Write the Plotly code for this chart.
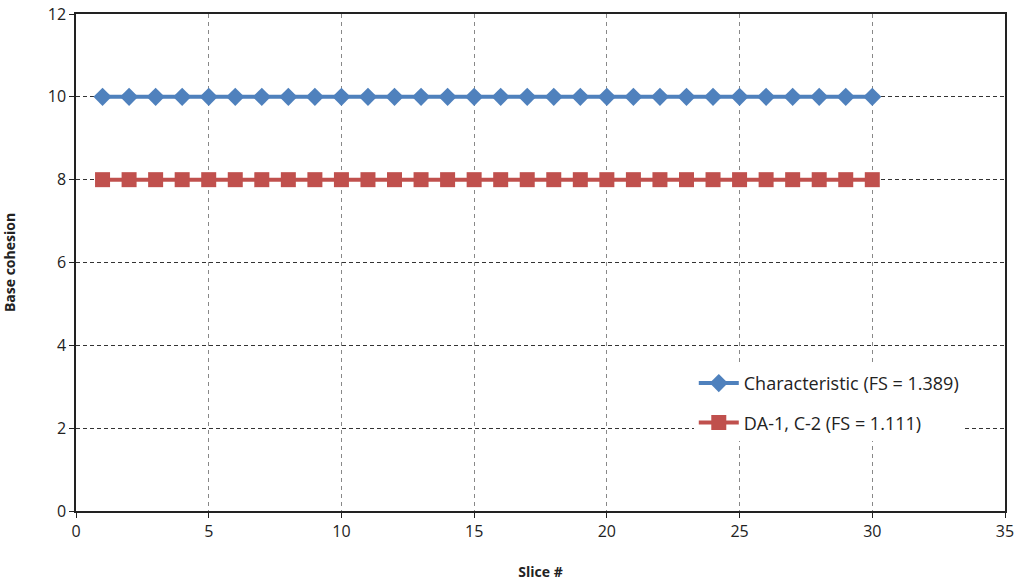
import plotly.graph_objects as go

slices = list(range(1, 31))
characteristic = [10] * 30
da1_c2 = [8] * 30
series_names = ["Characteristic (FS = 1.389)", "DA-1, C-2 (FS = 1.111)"]
x_ticks = [0, 5, 10, 15, 20, 25, 30, 35]
y_ticks = [0, 2, 4, 6, 8, 10, 12]

fig = go.Figure()
fig.add_trace(go.Scatter(
    x=slices, y=characteristic, mode="lines+markers", name=series_names[0],
    legendgroup="a",
    line=dict(color="#4F81BD", width=4),
    marker=dict(symbol="diamond", size=14, color="#4F81BD"),
))
fig.add_trace(go.Scatter(
    x=slices, y=da1_c2, mode="lines+markers", name=series_names[1],
    legendgroup="b",
    line=dict(color="#C0504D", width=4),
    marker=dict(symbol="square", size=15, color="#C0504D"),
))

font_tick = dict(family="Open Sans, Lato, sans-serif", size=16, color="#222")
font_title = dict(family="Open Sans, Lato, sans-serif", size=14, color="#222")

axis_common = dict(
    showline=True, linecolor="#222", linewidth=1.5, mirror=True,
    showgrid=True, gridwidth=1,
    ticks="outside", ticklen=5, tickcolor="#222",
    zeroline=False, automargin=False,
    tickfont=font_tick,
)

fig.update_xaxes(range=[0, 35], tickvals=x_ticks,
                 gridcolor="#888", griddash="4px,4px",
                 title=dict(text="<b>Slice #</b>", font=font_title, standoff=26),
                 **axis_common)
fig.update_yaxes(range=[0, 12], tickvals=y_ticks,
                 gridcolor="#333", griddash="4px,3px",
                 title=dict(text="<b>Base cohesion</b>", font=font_title, standoff=40),
                 **axis_common)

fig.update_layout(
    width=1017, height=584,
    margin=dict(l=76, r=12, t=14, b=73),
    paper_bgcolor="white", plot_bgcolor="white",
    legend=dict(x=0.665, y=0.294, xanchor="left", yanchor="top",
                bgcolor="white", borderwidth=0, tracegroupgap=13,
                font=dict(family="Open Sans, Lato, sans-serif", size=18, color="#222"),
                itemwidth=40),
    showlegend=True,
)

fig.write_html("out.html", config={"displayModeBar": False},
               post_script="document.body.style.margin='0';")
